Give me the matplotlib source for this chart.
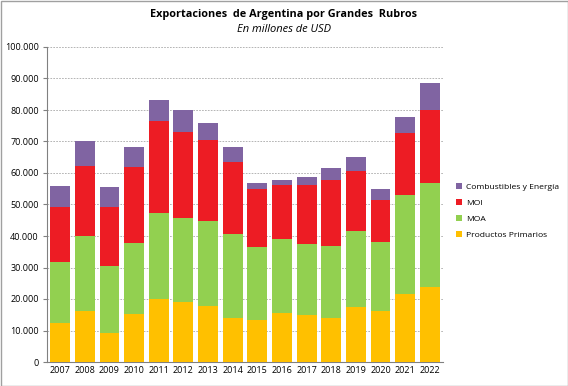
import matplotlib
matplotlib.use("Agg")
import matplotlib.pyplot as plt
from matplotlib.ticker import FuncFormatter
from matplotlib.patches import Rectangle

years = ["2007", "2008", "2009", "2010", "2011", "2012", "2013", "2014",
         "2015", "2016", "2017", "2018", "2019", "2020", "2021", "2022"]
primarios = [12500, 16300, 9300, 15300, 19900, 19150, 17900, 14100,
             13450, 15550, 14900, 13950, 17550, 16300, 21700, 23700]
moa = [19350, 23700, 21200, 22550, 27500, 26650, 26850, 26650,
       23150, 23400, 22650, 22950, 24050, 21800, 31200, 33250]
moi = [17250, 22350, 18850, 23900, 29100, 27300, 25800, 22850,
       18200, 17150, 18750, 20850, 19150, 13450, 19900, 23150]
combustibles = [6900, 7800, 6350, 6600, 6650, 6950, 5400, 4750,
                1900, 1800, 2300, 3900, 4450, 3400, 5100, 8350]

series = [("Productos Primarios", primarios, "#FFC000"),
          ("MOA", moa, "#92D050"),
          ("MOI", moi, "#ED1C24"),
          ("Combustibles y Energía", combustibles, "#8064A2")]

plt.rcParams['font.family'] = ['Open Sans', 'DejaVu Sans']

fig = plt.figure(figsize=(5.68, 3.86), dpi=100)
ax = fig.add_axes([47/568, 1 - 362/386, (443-47)/568, (362-47)/386])

x = list(range(len(years)))
bottom = [0]*len(years)
handles = []
for name, vals, col in series:
    b = ax.bar(x, vals, 0.8, bottom=bottom, color=col, label=name, zorder=3)
    handles.append(b)
    bottom = [a + v for a, v in zip(bottom, vals)]

ax.set_xlim(-0.53, 15.53)
ax.set_ylim(0, 100000)
ax.set_yticks(range(0, 100001, 10000))
ax.yaxis.set_major_formatter(FuncFormatter(lambda v, p: f"{int(v):,}".replace(",", ".")))
ax.set_xticks(x)
ax.set_xticklabels(years)
ax.tick_params(axis='both', labelsize=6.5, colors='#000000', length=0, pad=3)
ax.tick_params(axis='y', length=3, color='#808080')

ax.grid(axis='y', color='#A8A8A8', linewidth=0.6, linestyle=(0, (2, 1.5)), zorder=0)
for s in ['top', 'right']:
    ax.spines[s].set_visible(False)
ax.spines['left'].set_color('#808080')
ax.spines['bottom'].set_color('#808080')

fig.text(284/568, 1 - 15/386, "Exportaciones  de Argentina por Grandes  Rubros",
         ha='center', va='center', fontsize=7.8, fontweight='bold')
fig.text(284/568, 1 - 30/386, "En millones de USD",
         ha='center', va='center', fontsize=8, style='italic')

leg = fig.legend(handles[::-1], [s[0] for s in series][::-1],
                 loc='center left', bbox_to_anchor=(448/568, 1 - 211/386),
                 frameon=False, fontsize=6.1, handlelength=0.7, handleheight=0.7,
                 handletextpad=0.5, labelspacing=0.95)

fig.patches.append(Rectangle((0.5/568, 0.5/386), 1 - 1/568, 1 - 1/386,
                             transform=fig.transFigure, fill=False,
                             edgecolor='#A0A0A0', linewidth=1))

fig.savefig("out.png", dpi=100)
